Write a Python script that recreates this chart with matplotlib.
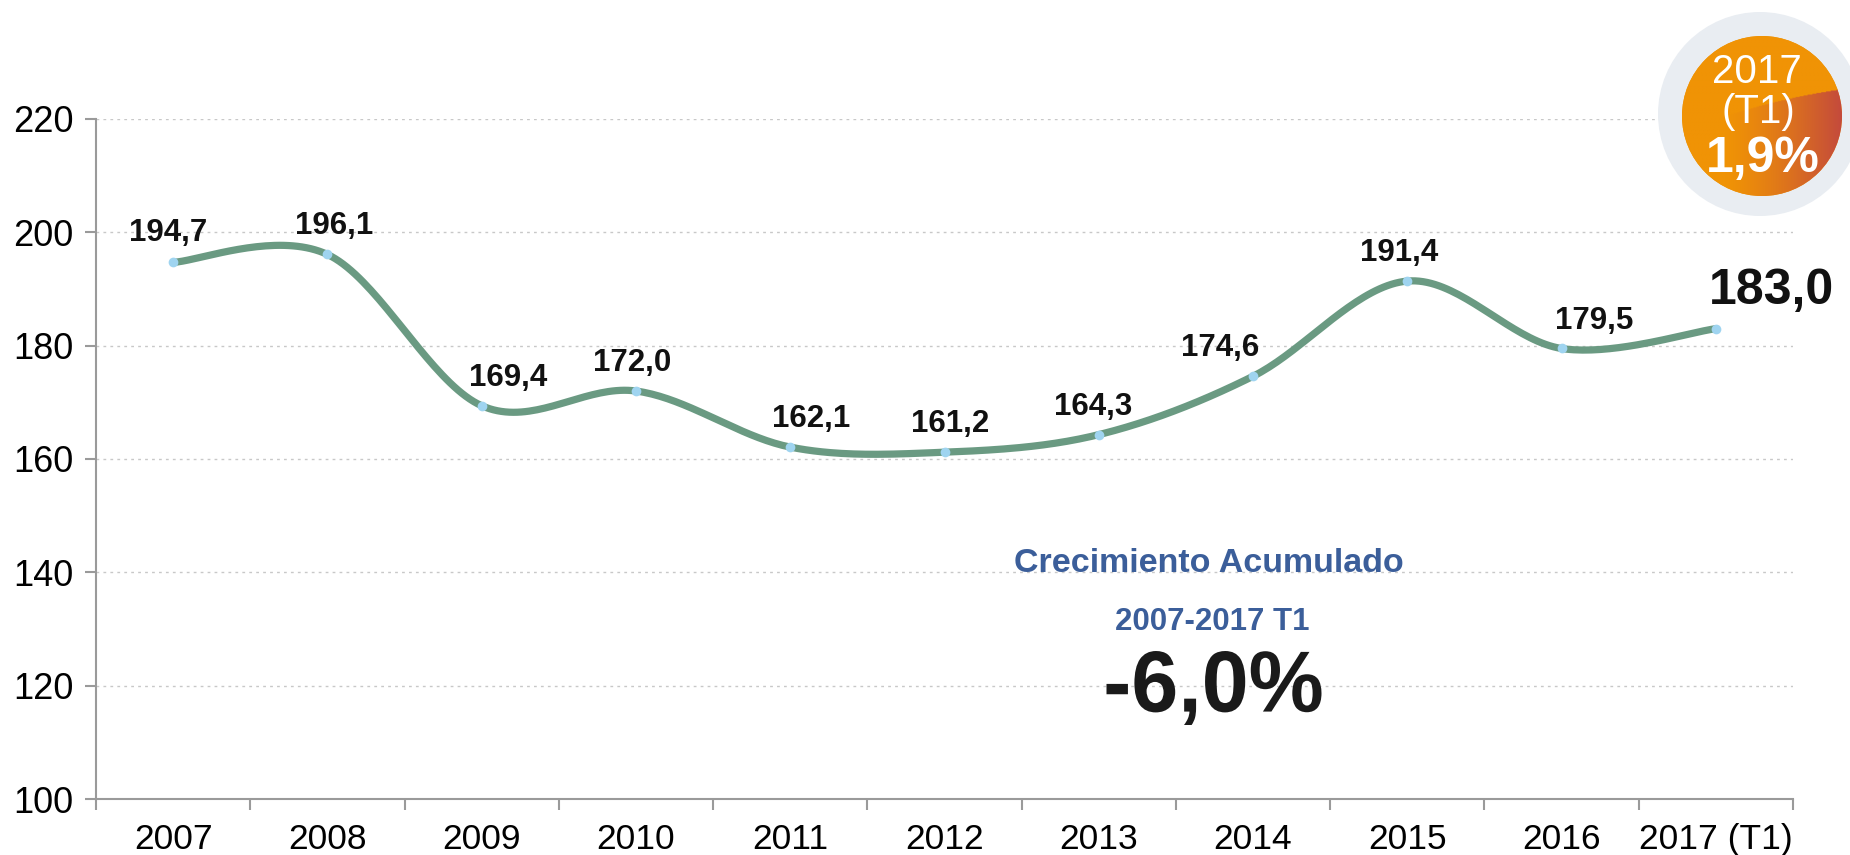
import numpy as np
import matplotlib.pyplot as plt
from matplotlib.patches import Circle, PathPatch
from matplotlib.textpath import TextPath
from matplotlib.font_manager import FontProperties
from matplotlib.transforms import Affine2D

plt.rcParams['font.family'] = ['Liberation Sans', 'DejaVu Sans']

# data
years = ['2007', '2008', '2009', '2010', '2011', '2012', '2013', '2014', '2015', '2016', '2017 (T1)']
values = [194.7, 196.1, 169.4, 172.0, 162.1, 161.2, 164.3, 174.6, 191.4, 179.5, 183.0]
labels = ['194,7', '196,1', '169,4', '172,0', '162,1', '161,2', '164,3', '174,6', '191,4', '179,5', '183,0']
yticks = [100, 120, 140, 160, 180, 200, 220]

# label offsets in pixels (dx, dy)
label_dx = [-5, 7, 26, -4, 21, 6, -6, -33, -8, 33, 56]
label_dy = [29, 28, 28, 28, 28, 28, 28, 28, 28, 28, 38]

W, H = 1850, 855


def smooth(xs, ys, n=40):
    # Excel-like smoothed line (Catmull-Rom as cubic Bezier)
    pts = np.column_stack([xs, ys]).astype(float)
    p = np.vstack([pts[0], pts, pts[-1]])
    t = np.linspace(0, 1, n)[:, None]
    out = []
    for i in range(1, len(p) - 2):
        p0, p1, p2, p3 = p[i - 1], p[i], p[i + 1], p[i + 2]
        c1 = p1 + (p2 - p0) / 6
        c2 = p2 - (p3 - p1) / 6
        out.append((1 - t) ** 3 * p1 + 3 * (1 - t) ** 2 * t * c1
                   + 3 * (1 - t) * t ** 2 * c2 + t ** 3 * p2)
    return np.vstack(out)


fig = plt.figure(figsize=(W / 100, H / 100), dpi=100)
ax = fig.add_axes([96 / W, 1 - 799 / H, (1793 - 96) / W, (799 - 119) / H])

x = np.arange(len(years))
ax.set_xlim(-0.5, len(years) - 0.5)
ax.set_ylim(100, 220)

ax.set_yticks(yticks)
ax.set_yticklabels([str(v) for v in yticks], fontsize=26)
ax.set_xticks(np.arange(-0.5, len(years), 1))
ax.set_xticklabels([])
ax.set_xticks(x, minor=True)
ax.set_xticklabels(years, minor=True, fontsize=25.5)
ax.tick_params(axis='x', which='major', length=8, width=1.5, color='#9a9a9a', direction='out')
ax.tick_params(axis='x', which='minor', length=0, pad=17)
ax.tick_params(axis='y', length=8, width=1.5, color='#9a9a9a', pad=8)

for s in ['top', 'right']:
    ax.spines[s].set_visible(False)
for s in ['left', 'bottom']:
    ax.spines[s].set_color('#9a9a9a')
    ax.spines[s].set_linewidth(1.5)

ax.yaxis.grid(True, linestyle=(0, (2, 3)), color='#c8c8c8', linewidth=1)
ax.set_axisbelow(True)

curve = smooth(x, values)
ax.plot(curve[:, 0], curve[:, 1], color='#6a9a82', linewidth=5.2, solid_capstyle='round', zorder=3)
ax.plot(x, values, 'o', color='#9fd4f0', markersize=7, markeredgewidth=0, zorder=4)

for i, (xi, v, lab) in enumerate(zip(x, values, labels)):
    big = i == len(values) - 1
    ax.annotate(lab, (xi, v), xytext=(label_dx[i] * 0.72, label_dy[i] * 0.72),
                textcoords='offset points', ha='center', va='center',
                fontsize=36 if big else 22.5, fontweight='bold', color='#111111', zorder=5)

# overlay in pixel coordinates for the annotations and badge
ov = fig.add_axes([0, 0, 1, 1], zorder=10)
ov.set_xlim(0, W)
ov.set_ylim(H, 0)
ov.axis('off')
ov.patch.set_alpha(0)

blue = '#3b5e9a'
ov.text(1209, 563, 'Crecimiento Acumulado', ha='center', va='center', fontsize=24.5,
        fontweight='bold', color=blue)
ov.text(1212, 622, '2007-2017 T1', ha='center', va='center', fontsize=22.5,
        fontweight='bold', color=blue)

# big condensed "-6,0%"
tp = TextPath((0, 0), '-6,0%', size=92,
              prop=FontProperties(family='Liberation Sans', weight='bold'))
bb = tp.get_extents()
sx = 215 / bb.width
sy = 74 / bb.height
tr = (Affine2D().translate(-(bb.x0 + bb.width / 2), -(bb.y0 + bb.height / 2))
      .scale(sx, -sy).translate(1214, 688))
ov.add_patch(PathPatch(tr.transform_path(tp), facecolor='#1a1a1a', edgecolor='none', zorder=5))

# badge
cx, cy, r = 1762, 116, 80
ov.add_patch(Circle((1760, 114), 102, facecolor='#e9edf2', edgecolor='none'))
inner = Circle((cx, cy), r, facecolor='#f09305', edgecolor='none')
ov.add_patch(inner)

gx = np.linspace(cx - r, cx + r, 200)
gy = np.linspace(cy - r, cy + r, 200)
GX, GY = np.meshgrid(gx, gy)
orange = np.array([0xf0, 0x93, 0x05]) / 255
red = np.array([0xc4, 0x4a, 0x3c]) / 255
tt = np.clip((GX - 1725) / (cx + r - 1725), 0, 1) ** 1.3
below = GY > 108 - (GX - 1750) * 0.22 + 0.0008 * (GX - 1790) ** 2
tt = np.where(below, tt, 0)
img = orange[None, None, :] * (1 - tt[..., None]) + red[None, None, :] * tt[..., None]
im = ov.imshow(img, extent=[cx - r, cx + r, cy + r, cy - r], origin='upper',
               interpolation='bilinear', zorder=2)
im.set_clip_path(Circle((cx, cy), r, transform=ov.transData))
ov.set_xlim(0, W)
ov.set_ylim(H, 0)
ov.set_aspect('auto')

ov.text(1757, 72, '2017', ha='center', va='center', fontsize=29, color='white', zorder=5)
ov.text(1758, 112, '(T1)', ha='center', va='center', fontsize=29, color='white', zorder=5)
ov.text(1763, 159, '1,9%', ha='center', va='center', fontsize=36, fontweight='bold',
        color='white', zorder=5)

fig.savefig('out.png', dpi=100)
